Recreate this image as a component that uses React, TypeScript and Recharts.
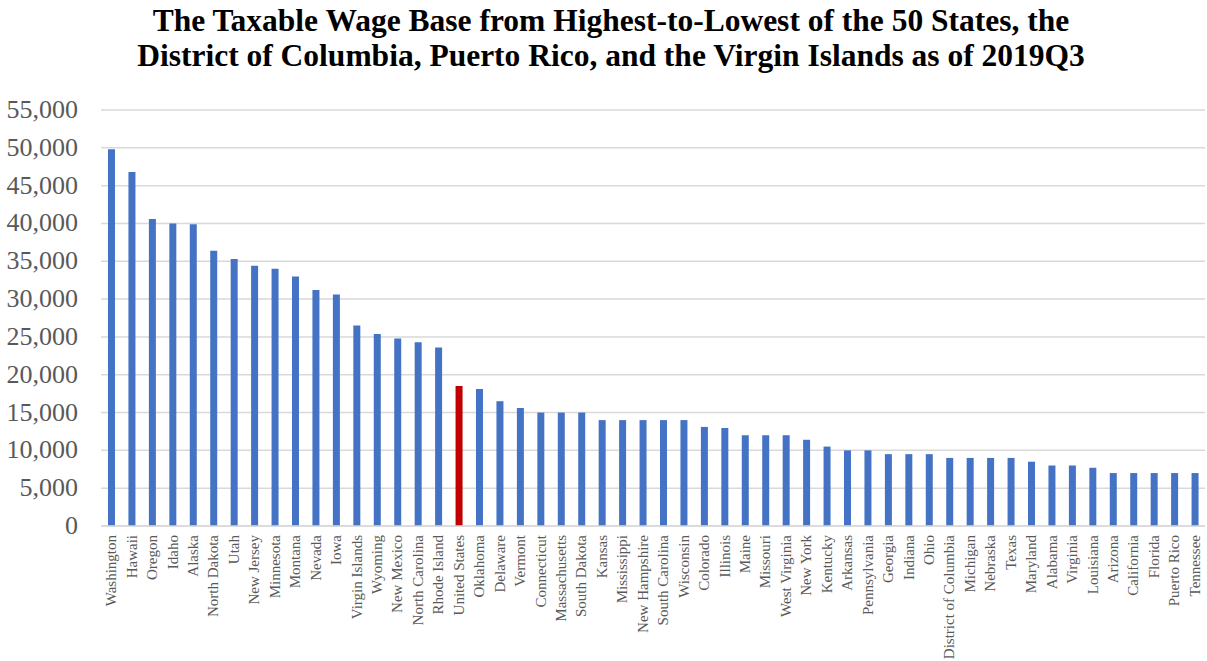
import React from "react";
import { BarChart, Bar, XAxis, YAxis, CartesianGrid, Cell } from "recharts";

const states = [
  "Washington", "Hawaii", "Oregon", "Idaho", "Alaska", "North Dakota", "Utah", "New Jersey",
  "Minnesota", "Montana", "Nevada", "Iowa", "Virgin Islands", "Wyoming", "New Mexico",
  "North Carolina", "Rhode Island", "United States", "Oklahoma", "Delaware", "Vermont",
  "Connecticut", "Massachusetts", "South Dakota", "Kansas", "Mississippi", "New Hampshire",
  "South Carolina", "Wisconsin", "Colorado", "Illinois", "Maine", "Missouri", "West Virginia",
  "New York", "Kentucky", "Arkansas", "Pennsylvania", "Georgia", "Indiana", "Ohio",
  "District of Columbia", "Michigan", "Nebraska", "Texas", "Maryland", "Alabama", "Virginia",
  "Louisiana", "Arizona", "California", "Florida", "Puerto Rico", "Tennessee",
];

const wageBase = [
  49800, 46800, 40600, 40000, 39900, 36400, 35300, 34400, 34000, 33000, 31200, 30600,
  26500, 25400, 24800, 24300, 23600, 18500, 18100, 16500, 15600, 15000, 15000, 15000,
  14000, 14000, 14000, 14000, 14000, 13100, 12960, 12000, 12000, 12000, 11400, 10500,
  10000, 10000, 9500, 9500, 9500, 9000, 9000, 9000, 9000, 8500, 8000, 8000, 7700,
  7000, 7000, 7000, 7000, 7000,
];

const yTicks = [0, 5000, 10000, 15000, 20000, 25000, 30000, 35000, 40000, 45000, 50000, 55000];

const highlight = "United States";

const data = states.map((s, i) => ({ name: s, value: wageBase[i] }));

const YTick = (props: any) => {
  const { y, payload } = props;
  return (
    <text x={78} y={y} dy={8} textAnchor="end" fontFamily="'Liberation Serif', serif" fontSize={26} fill="#595959">
      {payload.value.toLocaleString("en-US")}
    </text>
  );
};

const XTick = (props: any) => {
  const { x, y, payload } = props;
  return (
    <text
      x={0}
      y={0}
      transform={`translate(${x + 5},${y + 1}) rotate(-90)`}
      textAnchor="end"
      fontFamily="'Liberation Serif', serif"
      fontSize={15}
      fill="#595959"
    >
      {payload.value}
    </text>
  );
};

export default function App() {
  return (
    <div style={{ position: "absolute", left: 0, top: 0, width: 1207, height: 661, background: "#fff" }}>
      <div
        style={{
          position: "absolute",
          left: 0,
          top: 3,
          width: 1222,
          textAlign: "center",
          fontFamily: "'Liberation Serif', serif",
          fontWeight: "bold",
          fontSize: 31.5,
          lineHeight: "35px",
          color: "#000",
        }}
      >
        The Taxable Wage Base from Highest-to-Lowest of the 50 States, the
        <br />
        District of Columbia, Puerto Rico, and the Virgin Islands as of 2019Q3
      </div>
      <BarChart
        width={1207}
        height={661}
        data={data}
        margin={{ top: 110, right: 2, bottom: 0, left: 0 }}
        barSize={7}
      >
        <CartesianGrid vertical={false} stroke="#D9D9D9" strokeWidth={1.5} />
        <YAxis
          width={101}
          domain={[0, 55000]}
          ticks={yTicks}
          axisLine={false}
          tickLine={false}
          tick={<YTick />}
          interval={0}
        />
        <XAxis
          dataKey="name"
          height={135}
          interval={0}
          axisLine={{ stroke: "#D9D9D9", strokeWidth: 1.5 }}
          tickLine={false}
          tick={<XTick />}
        />
        <Bar dataKey="value" isAnimationActive={false}>
          {data.map((d) => (
            <Cell key={d.name} fill={d.name === highlight ? "#C00000" : "#4472C4"} />
          ))}
        </Bar>
      </BarChart>
    </div>
  );
}
